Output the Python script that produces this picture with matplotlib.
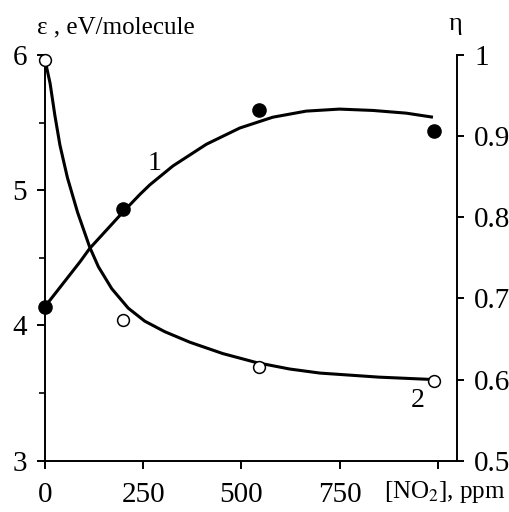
import matplotlib

matplotlib.use("Agg")
import matplotlib.pyplot as plt
from matplotlib.ticker import MultipleLocator

plt.rcParams["font.family"] = ["Liberation Serif", "DejaVu Serif"]
plt.rcParams["mathtext.fontset"] = "stix"

# measured points
no2_points = [0, 199, 545, 990]
eps_points = [4.14, 4.86, 5.59, 5.44]
eta_points = [0.994, 0.674, 0.616, 0.598]

# fitted curves
curve1_x = [0, 89, 114, 199, 242, 267, 326, 411, 496, 580, 665, 750, 835, 920, 988]
curve1_eps = [4.14, 4.47, 4.57, 4.84, 4.97, 5.04, 5.18, 5.34, 5.46, 5.54, 5.585, 5.60,
              5.59, 5.57, 5.54]

curve2_x = [0, 13, 25, 38, 57, 83, 114, 136, 170, 212, 254, 305, 369, 453, 538, 623,
            700, 850, 990]
curve2_eta = [0.994, 0.965, 0.926, 0.889, 0.849, 0.806, 0.763, 0.739, 0.712, 0.688,
              0.672, 0.659, 0.646, 0.632, 0.621, 0.613, 0.608, 0.603, 0.600]

x_ticks = [0, 250, 500, 750, 1000]
x_labels = ["0", "250", "500", "750", ""]
eps_ticks = [3, 4, 5, 6]
eta_ticks = [0.5, 0.6, 0.7, 0.8, 0.9, 1.0]
eta_labels = ["0.5", "0.6", "0.7", "0.8", "0.9", "1"]

W, H = 509, 512
fig = plt.figure(figsize=(W / 100, H / 100), dpi=100)
ax = fig.add_axes([45 / W, 1 - 460.7 / H, 412.3 / W, 405.7 / H])
ax2 = ax.twinx()

ax.plot(curve1_x, curve1_eps, color="black", lw=2.2, solid_capstyle="butt",
        solid_joinstyle="round", clip_on=False)
ax.plot(no2_points, eps_points, "o", color="black", ms=9.5, clip_on=False, zorder=5)

ax2.plot(curve2_x, curve2_eta, color="black", lw=2.2, solid_capstyle="butt",
         solid_joinstyle="round", clip_on=False)
ax2.plot(no2_points, eta_points, "o", mfc="white", mec="black", mew=1.1, ms=8.5,
         clip_on=False, zorder=5)

ax.set_xlim(0, 1050)
ax.set_ylim(3, 6)
ax2.set_ylim(0.5, 1.0)

ax.set_xticks(x_ticks)
ax.set_xticklabels(x_labels)
ax.set_yticks(eps_ticks)
ax.yaxis.set_minor_locator(MultipleLocator(0.5))
ax2.set_yticks(eta_ticks)
ax2.set_yticklabels(eta_labels)

for a in (ax, ax2):
    a.spines["top"].set_visible(False)
    for s in a.spines.values():
        s.set_linewidth(1.4)
ax.spines["right"].set_visible(False)
ax2.spines["left"].set_visible(False)
ax2.spines["bottom"].set_visible(False)

ax.tick_params(axis="both", which="major", direction="out", length=6, width=1.4,
               labelsize=21, pad=7)
ax.tick_params(axis="y", which="minor", direction="out", length=4, width=1.2)
ax.tick_params(axis="x", pad=9)
ax2.tick_params(axis="y", direction="out", length=5, width=1.4, labelsize=21, pad=7)

ax.text(280, 5.2, "1", fontsize=20, ha="center", va="center")
ax2.text(949, 0.574, "2", fontsize=20, ha="center", va="center")

fig.text(37 / W, 1 - 33 / H, "ε , eV/molecule", fontsize=18, ha="left", va="baseline")
fig.text(455 / W, 1 - 30 / H, "η", fontsize=19, ha="center", va="baseline")
fig.text(506 / W, 1 - 498 / H, "[NO$_2$], ppm", fontsize=18, ha="right", va="baseline")

fig.savefig("out.png", dpi=100)
